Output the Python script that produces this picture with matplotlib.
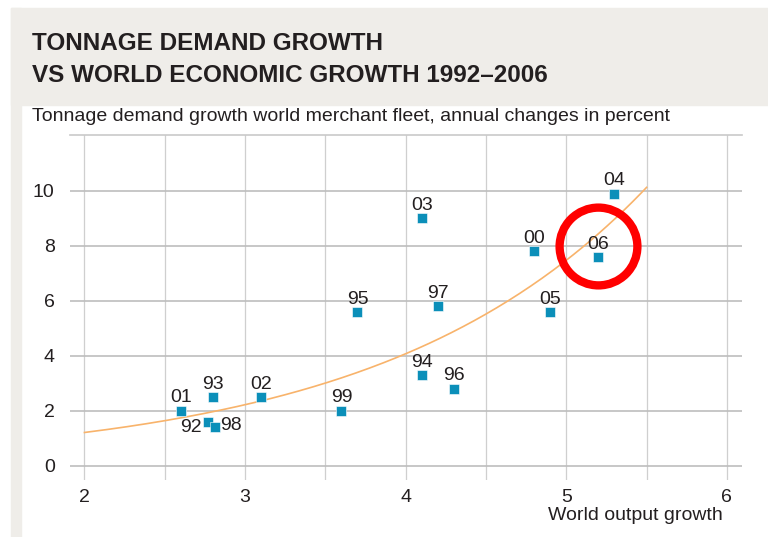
import numpy as np
import matplotlib
matplotlib.use("Agg")
import matplotlib.pyplot as plt
from matplotlib.patches import Rectangle

# --- data ---
years = ["92", "93", "94", "95", "96", "97", "98", "99",
         "00", "01", "02", "03", "04", "05", "06"]
output_growth = [2.77, 2.8, 4.1, 3.7, 4.3, 4.2, 2.81, 3.6,
                 4.8, 2.6, 3.1, 4.1, 5.3, 4.9, 5.2]
tonnage_growth = [1.6, 2.5, 3.3, 5.6, 2.8, 5.8, 1.4, 2.0,
                  7.8, 2.0, 2.5, 9.0, 9.9, 5.6, 7.6]

x_ticks = [2, 3, 4, 5, 6]
y_ticks = [0, 2, 4, 6, 8, 10]

# label offsets in points (default is centred above the marker)
label_offsets = {"92": (-12.5, -4.0), "98": (12.0, 1.5)}

# highlighted year (red ring)
ring_center = (5.2, 8.0)

BLUE = "#0b8fb9"
ORANGE = "#f8b36b"
TEXT = "#231f20"
BG = "#efede9"
FONT = ["Liberation Sans Narrow", "Liberation Sans", "DejaVu Sans"]

W, H = 768, 537
fig = plt.figure(figsize=(W / 100, H / 100), dpi=100)
fig.patch.set_facecolor("white")

# grey header band + left strip
fig.patches.append(Rectangle((11 / W, 1 - 105 / H), 1 - 11 / W, 97 / H,
                             transform=fig.transFigure, color=BG, zorder=0))
fig.patches.append(Rectangle((11 / W, 0), 10 / W, 1 - 8 / H,
                             transform=fig.transFigure, color=BG, zorder=0))

fig.text(32 / W, 1 - 49.5 / H, "TONNAGE DEMAND GROWTH", family=FONT,
         fontsize=17.5, fontweight="bold", color=TEXT, va="baseline")
fig.text(32 / W, 1 - 81.5 / H, "VS WORLD ECONOMIC GROWTH 1992\u20132006",
         family=FONT, fontsize=17.5, fontweight="bold", color=TEXT, va="baseline")
fig.text(32 / W, 1 - 121 / H,
         "Tonnage demand growth world merchant fleet, annual changes in percent",
         family=FONT, fontsize=14, color=TEXT, va="baseline")

ax = fig.add_axes([70 / W, 1 - 479.5 / H, 672 / W, 344.5 / H])
ax.set_xlim(1.91, 6.094)
ax.set_ylim(-0.5, 12.03)

for s in ["left", "right", "bottom"]:
    ax.spines[s].set_visible(False)
ax.spines["top"].set_color("#c9c9c9")
ax.spines["top"].set_linewidth(1.2)

ax.set_xticks(x_ticks)
ax.set_xticks([2.5, 3.5, 4.5, 5.5], minor=True)
ax.set_yticks(y_ticks)
ax.tick_params(which="both", length=0)
ax.tick_params(axis="y", pad=11, labelsize=14, labelcolor=TEXT)
ax.tick_params(axis="x", pad=7, labelsize=14, labelcolor=TEXT)
for lab in ax.get_xticklabels() + ax.get_yticklabels():
    lab.set_family(FONT)

ax.grid(axis="x", which="both", color="#cfcfcf", linewidth=0.9)
ax.grid(axis="y", which="major", color="#bdbdbd", linewidth=1.2)
ax.set_axisbelow(True)

# exponential trend fitted on the points
b, ln_a = np.polyfit(output_growth, np.log(tonnage_growth), 1)
xs = np.linspace(2, 5.5, 200)
ax.plot(xs, np.exp(ln_a + b * xs), color=ORANGE, linewidth=1.2, zorder=2)

ax.plot(output_growth, tonnage_growth, linestyle="none", marker="s",
        markersize=7.5, color=BLUE, markeredgecolor="white",
        markeredgewidth=0.4, zorder=3)

for yr, x, y in zip(years, output_growth, tonnage_growth):
    dx, dy = label_offsets.get(yr, (0, 9.2))
    ax.annotate(yr, (x, y), xytext=(dx, dy), textcoords="offset points",
                ha="center", va="center", fontsize=14, color=TEXT,
                family=FONT, zorder=4)

ax.plot([ring_center[0]], [ring_center[1]], marker="o", markersize=56,
        markerfacecolor="none", markeredgecolor="#ff0000",
        markeredgewidth=6, zorder=5)

fig.text(723 / W, 1 - 515 / H, "World output growth", family=FONT,
         fontsize=14, color=TEXT, ha="right", va="center")

fig.savefig("out.png", dpi=100)
